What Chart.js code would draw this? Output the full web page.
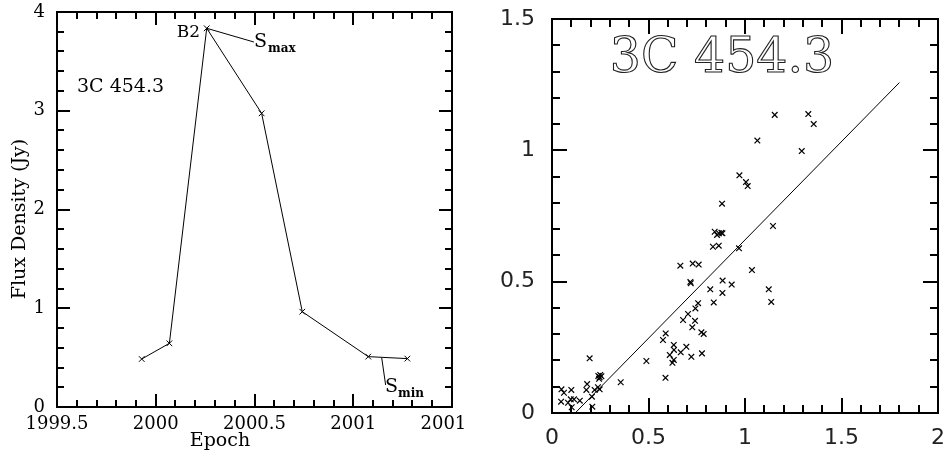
<!DOCTYPE html>
<html><head><meta charset="utf-8">
<script src="https://cdn.jsdelivr.net/npm/chart.js@4/dist/chart.umd.min.js"></script>
<style>
html,body{margin:0;padding:0;background:#fff;overflow:hidden}
#wrap{position:relative;width:946px;height:454px;background:#fff}
canvas{position:absolute;top:0}
#c1{left:0}
#c2{left:480px}
</style></head><body>
<div id="wrap">
<canvas id="c1" width="465" height="454"></canvas>
<canvas id="c2" width="466" height="454"></canvas>
</div>
<script>
// ---- Left panel: light curve ----
const epochs = [1999.929, 2000.069, 2000.258, 2000.536, 2000.742, 2001.076, 2001.274];
const fluxJy = [0.486, 0.645, 3.835, 2.974, 0.965, 0.510, 0.490];
const epochTicks = [1999.5, 2000, 2000.5, 2001, 2001.5];
const fluxTicks = [0, 1, 2, 3, 4];

// ---- Right panel: scatter ----
const scatterX = [1.154,1.328,1.356,1.064,1.294,0.971,1.005,1.014,0.881,1.145,
  0.843,0.855,0.865,0.878,0.883,0.834,0.864,0.969,1.036,0.665,
  0.729,0.760,0.717,0.719,0.884,0.931,0.820,0.883,1.123,1.136,
  0.838,0.757,0.743,0.705,0.679,0.741,0.727,0.774,0.786,0.589,
  0.575,0.631,0.696,0.632,0.667,0.610,0.722,0.777,0.631,0.624,
  0.588,0.489,0.195,0.356,0.240,0.250,0.247,0.256,0.244,0.182,
  0.178,0.221,0.247,0.238,0.207,0.209,0.049,0.062,0.100,0.047,
  0.083,0.097,0.114,0.144,0.102];
const scatterY = [1.135,1.138,1.100,1.037,0.997,0.905,0.879,0.864,0.797,0.712,
  0.690,0.678,0.684,0.686,0.684,0.633,0.637,0.627,0.544,0.561,
  0.569,0.565,0.499,0.494,0.504,0.489,0.471,0.457,0.471,0.423,
  0.421,0.418,0.398,0.377,0.354,0.351,0.326,0.307,0.301,0.303,
  0.278,0.259,0.252,0.240,0.231,0.221,0.214,0.227,0.202,0.191,
  0.134,0.198,0.208,0.117,0.141,0.145,0.136,0.140,0.130,0.110,
  0.088,0.088,0.090,0.098,0.062,0.024,0.090,0.077,0.088,0.043,
  0.039,0.052,0.052,0.047,0.022];
const fitX = [0.12, 1.80];
const fitY = [0.0, 1.258];
const ratioTicksX = [0, 0.5, 1, 1.5, 2];
const ratioTicksY = [0, 0.5, 1, 1.5];

function fmt(v){ return String(Math.round(v*10)/10); }

function framePlugin(o){
  return {
    id:'frameTicks',
    afterDraw(chart){
      const ctx = chart.ctx;
      const a = chart.chartArea;
      const sx = chart.scales.x, sy = chart.scales.y;
      ctx.save();
      ctx.globalAlpha = 1;
      ctx.globalCompositeOperation = 'source-over';
      ctx.setLineDash([]);
      ctx.strokeStyle = '#000';
      ctx.lineWidth = o.frameW;
      ctx.strokeRect(a.left, a.top, a.right - a.left, a.bottom - a.top);
      ctx.lineWidth = 2;
      const nx = Math.round((o.xMax - o.xMin)/o.xMinor);
      for(let i=0;i<=nx;i++){
        const L = (i % o.xEvery === 0) ? o.major : o.minor;
        const px = Math.round(sx.getPixelForValue(o.xMin + i*o.xMinor));
        ctx.beginPath();
        ctx.moveTo(px, a.bottom); ctx.lineTo(px, a.bottom - L);
        ctx.moveTo(px, a.top); ctx.lineTo(px, a.top + L);
        ctx.stroke();
      }
      const ny = Math.round((o.yMax - o.yMin)/o.yMinor);
      for(let i=0;i<=ny;i++){
        const L = (i % o.yEvery === 0) ? o.major : o.minor;
        const py = Math.round(sy.getPixelForValue(o.yMin + i*o.yMinor));
        ctx.beginPath();
        ctx.moveTo(a.left, py); ctx.lineTo(a.left + L, py);
        ctx.moveTo(a.right, py); ctx.lineTo(a.right - L, py);
        ctx.stroke();
      }
      ctx.restore();
    }
  };
}

const leftText = {
  id:'leftText',
  afterDraw(chart){
    const ctx = chart.ctx, x = chart.scales.x, y = chart.scales.y;
    ctx.save();
    ctx.fillStyle = '#000'; ctx.strokeStyle = '#000'; ctx.lineWidth = 1;
    ctx.font = '19px "DejaVu Serif"';
    ctx.textBaseline = 'middle';
    ctx.textAlign = 'left';
    ctx.fillText('3C 454.3', 77, 87);
    ctx.textAlign = 'center';
    ctx.fillText('Epoch', 220, 441);
    ctx.save();
    ctx.translate(20, 219); ctx.rotate(-Math.PI/2);
    ctx.fillText('Flux Density (Jy)', 0, 0);
    ctx.restore();
    ctx.font = '17px "DejaVu Serif"';
    ctx.textAlign = 'right';
    ctx.fillText('B2', 200, 33);
    ctx.beginPath();
    ctx.moveTo(x.getPixelForValue(epochs[2]), y.getPixelForValue(fluxJy[2]));
    ctx.lineTo(x.getPixelForValue(2000.497), y.getPixelForValue(3.696));
    ctx.moveTo(x.getPixelForValue(2001.144), y.getPixelForValue(0.499));
    ctx.lineTo(x.getPixelForValue(2001.164), y.getPixelForValue(0.223));
    ctx.stroke();
    ctx.textAlign = 'left'; ctx.textBaseline = 'alphabetic';
    ctx.font = '19px "DejaVu Serif"';
    ctx.fillText('S', 254, 47);
    ctx.fillText('S', 385, 392);
    ctx.font = 'bold 12px "DejaVu Serif"';
    ctx.fillText('max', 268, 52);
    ctx.fillText('min', 398, 397);
    ctx.restore();
  }
};

new Chart(document.getElementById('c1'), {
  type:'line',
  data:{datasets:[{
    data: epochs.map((e,i)=>({x:e,y:fluxJy[i]})),
    borderColor:'#000', borderWidth:1, tension:0, fill:false,
    pointStyle:'crossRot', pointRadius:4, pointBorderWidth:1,
    pointBorderColor:'#000', pointBackgroundColor:'#000'
  }]},
  options:{
    responsive:false, animation:false, devicePixelRatio:1,
    layout:{padding:{top:12,right:13,left:0,bottom:0}},
    plugins:{legend:{display:false}, tooltip:{enabled:false}},
    scales:{
      x:{type:'linear', min:1999.5, max:2001.5,
        afterBuildTicks:s=>{s.ticks=epochTicks.map(v=>({value:v}));},
        ticks:{callback:v=>fmt(v), font:{family:'DejaVu Serif', size:18}, color:'#000', padding:7, maxRotation:0, autoSkip:false},
        grid:{display:false, drawTicks:false}, border:{display:false},
        afterFit:s=>{s.height=47; s.paddingLeft=0; s.paddingRight=0;}
      },
      y:{type:'linear', min:0, max:4,
        afterBuildTicks:s=>{s.ticks=fluxTicks.map(v=>({value:v}));},
        ticks:{callback:v=>fmt(v), font:{family:'DejaVu Serif', size:18}, color:'#000', padding:12, autoSkip:false},
        grid:{display:false, drawTicks:false}, border:{display:false},
        afterFit:s=>{s.width=57; s.paddingTop=0; s.paddingBottom=0;}
      }
    }
  },
  plugins:[framePlugin({xMin:1999.5,xMax:2001.5,xMinor:0.1,xEvery:5,yMin:0,yMax:4,yMinor:0.2,yEvery:5,major:13,minor:7,frameW:2}), leftText]
});

const rightText = {
  id:'rightText',
  afterDraw(chart){
    const ctx = chart.ctx;
    ctx.save();
    ctx.strokeStyle = '#222'; ctx.lineWidth = 1.1;
    ctx.font = '49px "DejaVu Serif"';
    ctx.textAlign = 'center'; ctx.textBaseline = 'middle';
    ctx.strokeText('3C 454.3', 242, 59);
    ctx.restore();
  }
};

new Chart(document.getElementById('c2'), {
  type:'scatter',
  data:{datasets:[
    {data: scatterX.map((v,i)=>({x:v,y:scatterY[i]})),
     pointStyle:'crossRot', pointRadius:4, pointBorderWidth:1.2,
     pointBorderColor:'#000', pointBackgroundColor:'#000', showLine:false},
    {type:'line', data: fitX.map((v,i)=>({x:v,y:fitY[i]})),
     borderColor:'#000', borderWidth:1, pointRadius:0, fill:false, tension:0}
  ]},
  options:{
    responsive:false, animation:false, devicePixelRatio:1,
    layout:{padding:{top:19,right:8,left:0,bottom:0}},
    plugins:{legend:{display:false}, tooltip:{enabled:false}},
    scales:{
      x:{type:'linear', min:0, max:2,
        afterBuildTicks:s=>{s.ticks=ratioTicksX.map(v=>({value:v}));},
        ticks:{callback:v=>fmt(v), font:{family:'DejaVu Sans', size:22}, color:'#222', padding:12, maxRotation:0, autoSkip:false},
        grid:{display:false, drawTicks:false}, border:{display:false},
        afterFit:s=>{s.height=41; s.paddingLeft=0; s.paddingRight=0;}
      },
      y:{type:'linear', min:0, max:1.5,
        afterBuildTicks:s=>{s.ticks=ratioTicksY.map(v=>({value:v}));},
        ticks:{callback:v=>fmt(v), font:{family:'DejaVu Sans', size:22}, color:'#222', padding:17, autoSkip:false},
        grid:{display:false, drawTicks:false}, border:{display:false},
        afterFit:s=>{s.width=72; s.paddingTop=0; s.paddingBottom=0;}
      }
    }
  },
  plugins:[framePlugin({xMin:0,xMax:2,xMinor:0.1,xEvery:5,yMin:0,yMax:1.5,yMinor:0.1,yEvery:5,major:15,minor:8,frameW:2}), rightText]
});
</script>
</body></html>
